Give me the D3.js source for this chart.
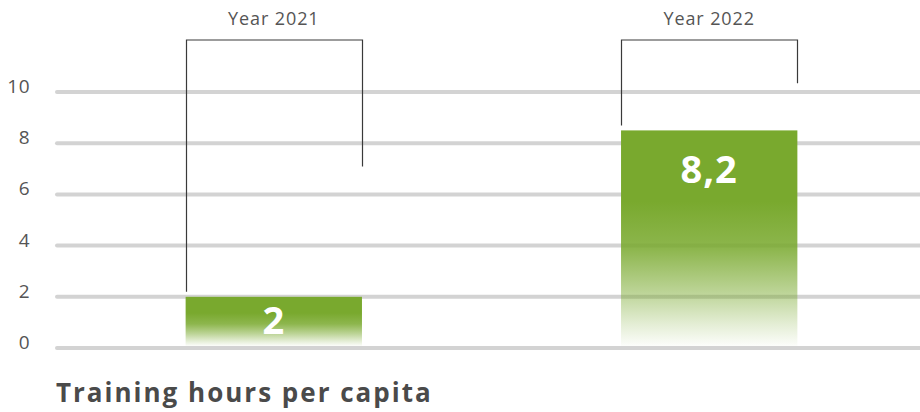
<!DOCTYPE html>
<html>
<head>
<meta charset="utf-8">
<script src="https://cdn.jsdelivr.net/npm/d3@7"></script>
<style>
  html, body { margin: 0; padding: 0; background: #ffffff; }
  svg { display: block; }
  text { font-family: "Open Sans", "DejaVu Sans", sans-serif; }
</style>
</head>
<body>
<svg id="chart" width="920" height="412"></svg>
<script>
// ---- data ----
const categories = ["Year 2021", "Year 2022"];
const values = [2, 8.5];
const valueLabels = ["2", "8,2"];
const yTicks = [0, 2, 4, 6, 8, 10];
const title = "Training hours per capita";

// ---- layout ----
const W = 920, H = 412;
const svg = d3.select("#chart");

const x = d3.scaleBand()
  .domain(categories)
  .range([55, 928])
  .paddingInner(0.595)
  .paddingOuter(0.3);

const y = d3.scaleLinear()
  .domain([0, 10])
  .range([348, 92]);

// gradient
const defs = svg.append("defs");
const grad = defs.append("linearGradient")
  .attr("id", "barGrad")
  .attr("x1", 0).attr("y1", 0).attr("x2", 0).attr("y2", 1);
[[0, 1], [0.33, 1], [0.55, 0.85], [0.75, 0.5], [0.9, 0.2], [1, 0.02]].forEach(([o, op]) => {
  grad.append("stop").attr("offset", o).attr("stop-color", "#79a92e").attr("stop-opacity", op);
});

// grid lines
svg.append("g").selectAll("line")
  .data(yTicks)
  .join("line")
  .attr("x1", 57).attr("x2", W + 5)
  .attr("y1", d => y(d)).attr("y2", d => y(d))
  .attr("stroke", "#d3d3d3")
  .attr("stroke-width", 4)
  .attr("stroke-linecap", "round");

// y axis labels
svg.append("g").selectAll("text")
  .data(yTicks)
  .join("text")
  .attr("x", 30)
  .attr("y", d => y(d) + 1)
  .attr("text-anchor", "end")
  .attr("font-size", 19)
  .attr("letter-spacing", 0.5)
  .attr("fill", "#555555")
  .text(d => d);

// bars
svg.append("g").selectAll("rect")
  .data(categories)
  .join("rect")
  .attr("x", d => x(d))
  .attr("width", x.bandwidth())
  .attr("y", (d, i) => y(values[i]))
  .attr("height", (d, i) => (y(0) - 2) - y(values[i]))
  .attr("fill", "url(#barGrad)");

// brackets
const bracketTop = 40;
const br = svg.append("g").attr("fill", "none").attr("stroke", "#3a3a3a").attr("stroke-width", 1.2);
categories.forEach((c, i) => {
  const x0 = Math.round(x(c)) + 0.5;
  const x1 = Math.round(x(c) + x.bandwidth()) + 0.5;
  const top = y(values[i]);
  const leftEnd = top - 5;
  const rightEnd = (bracketTop + top) / 2 - 2;
  br.append("path")
    .attr("d", `M${x0},${leftEnd} L${x0},${bracketTop} L${x1},${bracketTop} L${x1},${rightEnd}`);
});

// category labels
svg.append("g").selectAll("text")
  .data(categories)
  .join("text")
  .attr("x", d => x(d) + x.bandwidth() / 2)
  .attr("y", 25)
  .attr("text-anchor", "middle")
  .attr("font-size", 18)
  .attr("letter-spacing", 0.9)
  .attr("fill", "#555555")
  .text(d => d);

// value labels
svg.append("g").selectAll("text")
  .data(categories)
  .join("text")
  .attr("x", d => x(d) + x.bandwidth() / 2)
  .attr("y", (d, i) => {
    const top = y(values[i]);
    const h = (y(0) - 2) - top;
    return top + Math.min(53, h * 0.76);
  })
  .attr("text-anchor", "middle")
  .attr("font-size", 38)
  .attr("font-weight", 700)
  .attr("letter-spacing", 1)
  .attr("fill", "#ffffff")
  .text((d, i) => valueLabels[i]);

// title
svg.append("text")
  .attr("x", 56)
  .attr("y", 402)
  .attr("font-size", 26)
  .attr("font-weight", 700)
  .attr("letter-spacing", 2)
  .attr("fill", "#4a4a4a")
  .text(title);
</script>
</body>
</html>
